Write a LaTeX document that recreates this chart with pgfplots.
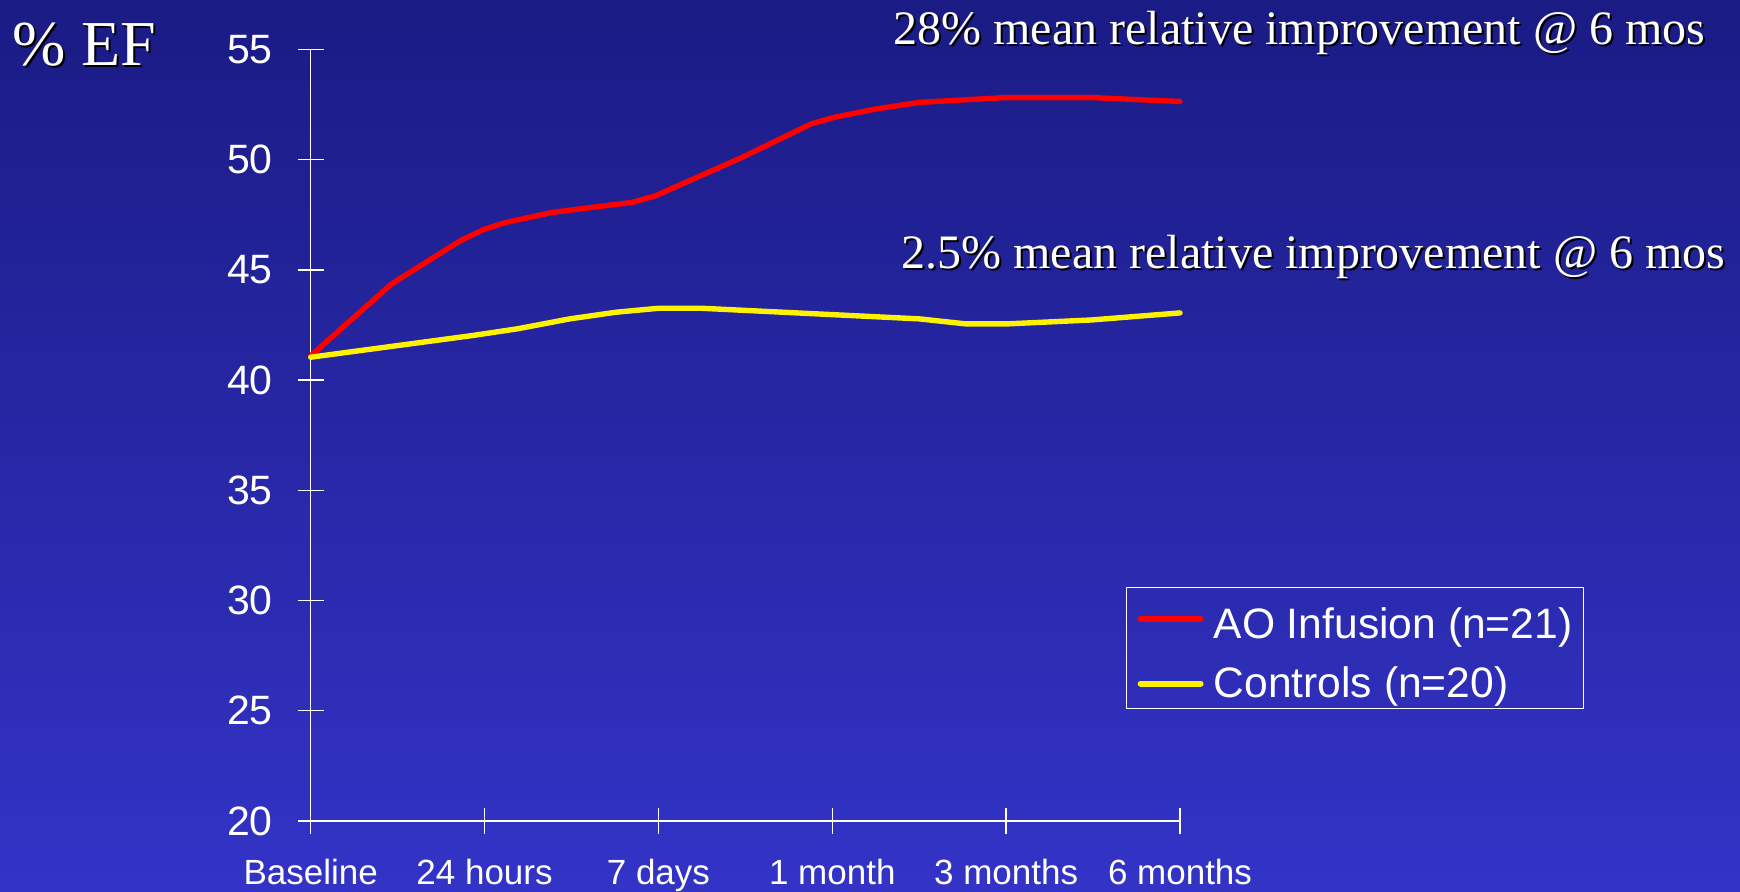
\documentclass[border=0pt]{standalone}
\usepackage{fontspec}
\setmainfont{Liberation Serif}
\setsansfont{Liberation Sans}
\usepackage{pgfplots}
\pgfplotsset{compat=1.18}
\usetikzlibrary{calc}
\definecolor{bgtop}{RGB}{27,27,133}
\definecolor{bgbot}{RGB}{51,51,199}
\newcommand{\shadowtext}[4]{% x, y, size, text
  \node[anchor=base west, inner sep=0pt, text=black] at ($(#1,#2)+(1pt,-1pt)$) {\fontsize{#3}{#3}\selectfont #4};
  \node[anchor=base west, inner sep=0pt, text=white] at (#1,#2) {\fontsize{#3}{#3}\selectfont #4};
}
\begin{document}
\begin{tikzpicture}
\fill[top color=bgtop, bottom color=bgbot, draw=none] (0,0) rectangle (870pt,445.5pt);
\shadowtext{6pt}{412.6pt}{32}{\% EF}
\shadowtext{446.5pt}{423pt}{24}{28\% mean relative improvement @ 6 mos}
\shadowtext{450.5pt}{311.5pt}{24}{2.5\% mean relative improvement @ 6 mos}
\begin{axis}[
  at={(155.35pt,35pt)}, anchor=south west,
  scale only axis, width=434.65pt, height=385.75pt,
  xmin=0, xmax=5, ymin=20, ymax=55,
  axis x line*=bottom, axis y line*=left,
  axis line style={white, line width=0.65pt},
  tick style={white, line width=0.65pt},
  tick align=center, major tick length=13pt,
  xtick={0,1,2,3,4,5},
  xticklabels={Baseline, 24 hours, 7 days, 1 month, 3 months, 6 months},
  ytick={20,25,...,55},
  /pgf/number format/assume math mode=true,
  xticklabel style={font=\sffamily\fontsize{17.5}{17.5}\selectfont, text=white, anchor=base, inner sep=0pt, yshift=-25pt},
  yticklabel style={font=\sffamily\fontsize{20.5}{20.5}\selectfont, text=white, anchor=east, inner sep=0pt, xshift=-12.3pt},
  legend cell align=left,
  legend style={at={(axis description cs:0.9379,0.3033)}, anchor=north west,
    draw=white, line width=0.6pt, fill=none, text=white,
    font=\sffamily\fontsize{21.3}{21.3}\selectfont,
    inner xsep=5.5pt, inner ysep=4pt, row sep=12.5pt,
    nodes={inner sep=0pt}, column sep=5pt},
  legend image code/.code={\draw[#1, line width=3pt, line cap=round] (1.5pt,0pt) -- (31.5pt,0pt);},
  clip=false,
]
\addplot[red, line width=2.7pt, line join=round, line cap=round] coordinates {
(0,41.1) (0.466,44.37) (0.862,46.33) (1.0,46.85) (1.126,47.16) (1.39,47.61)
(1.853,48.07) (1.985,48.37) (2.48,50.1) (2.877,51.62) (3.01,51.92) (3.25,52.3)
(3.50,52.6) (4.0,52.82) (4.49,52.82) (5.0,52.64)};
\addlegendentry{\rule{0pt}{21.5pt}AO Infusion (n=21)}
\addplot[yellow, line width=2.7pt, line join=round, line cap=round] coordinates {
(0,41.04) (0.927,42.02) (1.19,42.33) (1.49,42.78) (1.755,43.08) (2.0,43.26)
(2.25,43.26) (3.5,42.78) (3.77,42.55) (4.0,42.55) (4.49,42.73) (5.0,43.05)};
\addlegendentry{Controls (n=20)}
\end{axis}
\pgfresetboundingbox
\useasboundingbox (0,0) rectangle (870pt,445.5pt);
\end{tikzpicture}
\end{document}
